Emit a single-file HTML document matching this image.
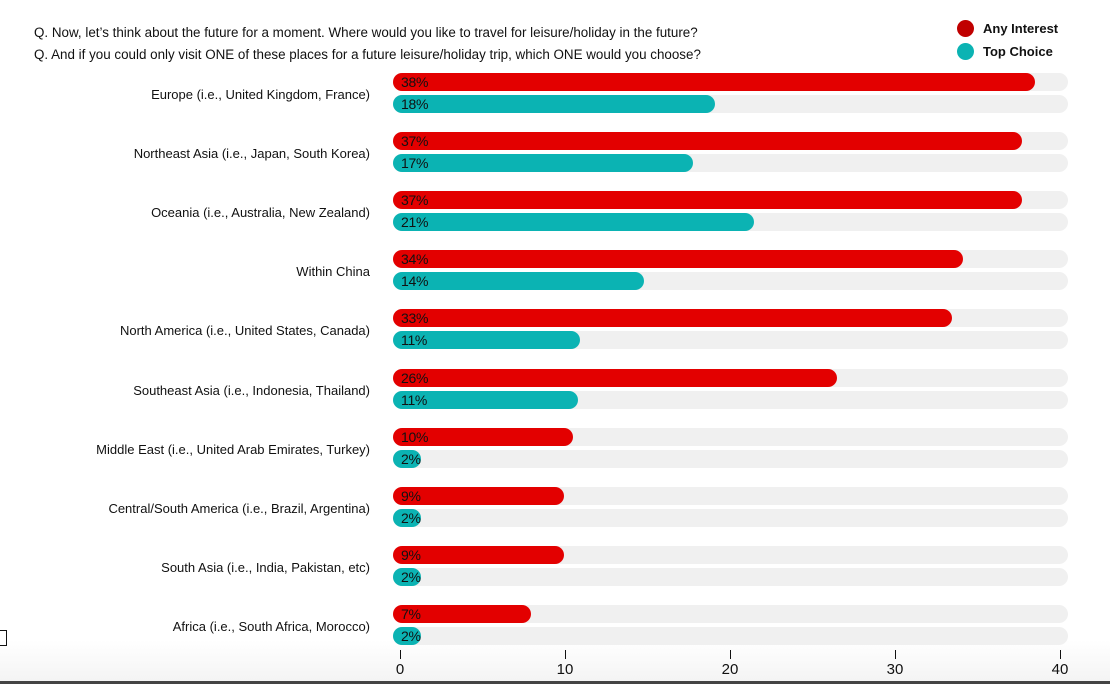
<!DOCTYPE html>
<html><head><style>
body{margin:0;width:1110px;height:684px;background:#fff;position:relative;overflow:hidden;font-family:"Liberation Sans",sans-serif;}
.q{position:absolute;left:34px;font-size:13.4px;color:#111}
.lab{position:absolute;right:740px;font-size:13px;color:#111;text-align:right;white-space:nowrap}
.tr{position:absolute;left:393px;width:675px;height:18px;border-radius:9px;background:#f0f0f0}
.b{position:absolute;left:393px;height:18px;border-radius:9px;font-size:14px;line-height:18px;color:#111;padding-left:8px;box-sizing:border-box;letter-spacing:-0.3px}
.r{background:#e30000}.t{background:#0bb3b3}
.tick{position:absolute;top:650px;width:1px;height:9px;background:#111}
.tl{position:absolute;top:661px;font-size:15px;color:#111;width:40px;text-align:center}
.lg{position:absolute;left:983px;font-size:13px;font-weight:bold;color:#111}
.dot{position:absolute;left:957px;width:17px;height:17px;border-radius:50%}
</style></head><body>
<div style="position:absolute;left:0;top:640px;width:1110px;height:41px;background:linear-gradient(#fff,#f4f4f4)"></div>
<div style="position:absolute;left:0;top:681px;width:1110px;height:3px;background:#444"></div>
<div style="position:absolute;left:0;top:630px;width:6px;height:14px;border:1px solid #111;border-left:none"></div>
<div class="q" style="top:25px">Q. Now, let’s think about the future for a moment. Where would you like to travel for leisure/holiday in the future?</div>
<div class="q" style="top:47px">Q. And if you could only visit ONE of these places for a future leisure/holiday trip, which ONE would you choose?</div>
<div class="dot" style="top:20px;background:#c00000"></div><div class="lg" style="top:21px">Any Interest</div>
<div class="dot" style="top:43px;background:#0bb3b3"></div><div class="lg" style="top:44px">Top Choice</div>
<div id="c"></div>
<script>
var d=[["Europe (i.e., United Kingdom, France)",38,1035,18,715],["Northeast Asia (i.e., Japan, South Korea)",37,1022,17,693],["Oceania (i.e., Australia, New Zealand)",37,1022,21,754],["Within China",34,963,14,644],["North America (i.e., United States, Canada)",33,952,11,580],["Southeast Asia (i.e., Indonesia, Thailand)",26,837,11,578],["Middle East (i.e., United Arab Emirates, Turkey)",10,573,2,421],["Central/South America (i.e., Brazil, Argentina)",9,564,2,421],["South Asia (i.e., India, Pakistan, etc)",9,564,2,421],["Africa (i.e., South Africa, Morocco)",7,531,2,421]];
var h="";d.forEach(function(r,i){var y=73+i*59.1;
h+='<div class="lab" style="top:'+(y+14)+'px">'+r[0]+'</div>';
h+='<div class="tr" style="top:'+y+'px"></div><div class="tr" style="top:'+(y+22)+'px"></div>';
h+='<div class="b r" style="top:'+y+'px;width:'+(r[2]-393)+'px">'+r[1]+'%</div>';
h+='<div class="b t" style="top:'+(y+22)+'px;width:'+(r[4]-393)+'px">'+r[3]+'%</div>';});
[0,10,20,30,40].forEach(function(v){var x=400+v*16.5;h+='<div class="tick" style="left:'+x+'px"></div><div class="tl" style="left:'+(x-20)+'px">'+v+'</div>';});
document.getElementById("c").innerHTML=h;
</script>
</body></html>
